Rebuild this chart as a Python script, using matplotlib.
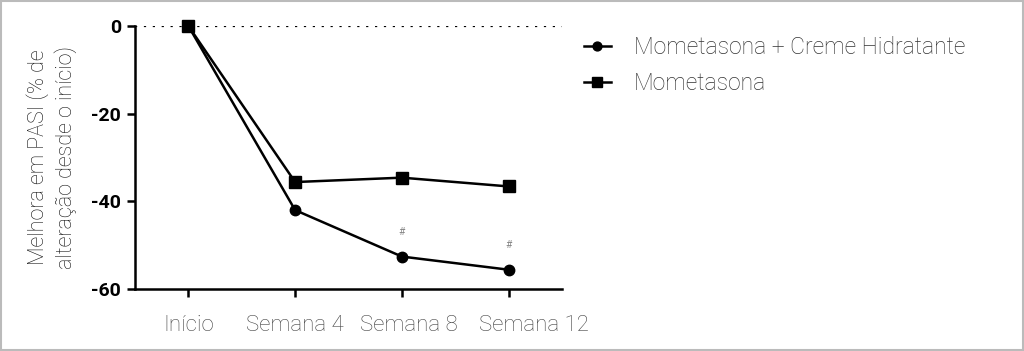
import matplotlib
matplotlib.use("Agg")
import matplotlib.pyplot as plt
from matplotlib.patches import Rectangle

categories = ["Início", "Semana 4", "Semana 8", "Semana 12"]
combo_values = [0, -42.0, -52.6, -55.6]
mono_values = [0, -35.6, -34.6, -36.6]
combo_label = "Mometasona + Creme Hidratante"
mono_label = "Mometasona"
hash_positions = [2, 3]
hash_values = [-47.0, -50.0]
yticks = [0, -20, -40, -60]
ylabel = "Melhora em PASI (% de\nalteração desde o início)"

plt.rcParams['font.family'] = ['Roboto', 'DejaVu Sans']

fig = plt.figure(figsize=(10.24, 3.51), dpi=100)
ax = fig.add_axes([135/1024, 1-289/351, (562-135)/1024, (289-26)/351])

x = list(range(len(categories)))
ax.plot([-0.5, 3.5], [0, 0], linestyle=(0, (1, 3)), color='black', lw=1.6, zorder=1)
l1, = ax.plot(x, combo_values, color='black', lw=1.8, marker='o', markersize=7.5,
              label=combo_label, clip_on=False, zorder=3)
l2, = ax.plot(x, mono_values, color='black', lw=1.8, marker='s', markersize=8,
              label=mono_label, clip_on=False, zorder=3)
for px, py in zip(hash_positions, hash_values):
    ax.text(px, py, "#", ha='center', va='center', fontsize=7.5, color='#888888')

ax.set_xlim(-0.5, 3.5)
ax.set_ylim(-60, 0)
ax.set_xticks(x)
ax.set_xticklabels([])
# category labels, placed with the small horizontal offsets of the original figure
label_shift = [0, 0, 5, 18]
for xi, cat, dx in zip(x, categories, label_shift):
    ax.annotate(cat, xy=(xi, 0), xycoords=('data', 'axes fraction'),
                xytext=(dx, -19), textcoords='offset points',
                ha='center', va='top', fontsize=16, color='#444444',
                fontweight='light', annotation_clip=False)
ax.set_yticks(yticks)
ax.set_yticklabels([str(v) for v in yticks], fontsize=14, fontweight='bold', color='black')
for s in ['top', 'right']:
    ax.spines[s].set_visible(False)
for s in ['left', 'bottom']:
    ax.spines[s].set_linewidth(1.8)
ax.tick_params(axis='both', width=1.8, length=6, color='black')
ax.tick_params(axis='y', pad=4)
ax.set_ylabel(ylabel, fontsize=15.5, color='#111111', fontweight='light', labelpad=10,
              linespacing=1.3)

fig.legend(handles=[l1, l2], loc='upper left', bbox_to_anchor=(563/1024, 1-15/351),
           frameon=False, handlelength=1.2, handletextpad=1.0,
           labelspacing=0.6, labelcolor='#333333',
           prop={'weight': 'light', 'size': 16.5}, markerscale=0.85)

fig.add_artist(Rectangle((0.001, 0.003), 0.998, 0.994, transform=fig.transFigure,
                         fill=False, edgecolor='#bbbbbb', lw=1.5))

fig.savefig("out.png", dpi=100)
